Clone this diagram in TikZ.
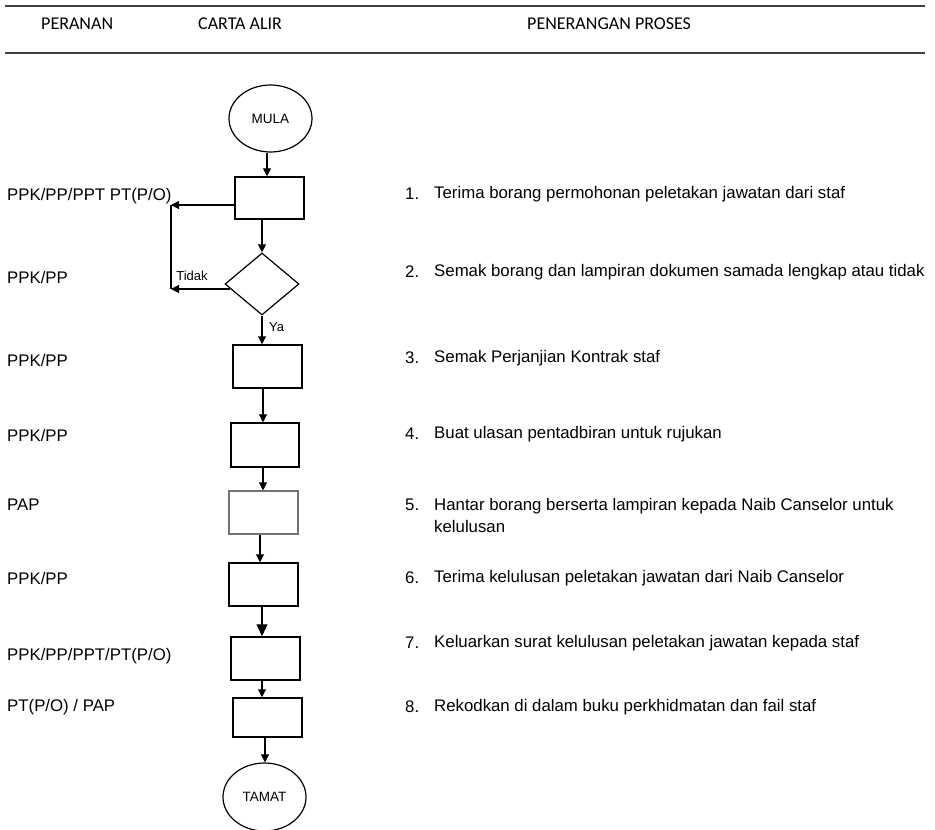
\documentclass[tikz,border=0pt]{standalone}
\usepackage{fontspec}
\setmainfont{Liberation Sans}
\newfontfamily\hdrfont{Carlito}
\usetikzlibrary{shapes.geometric,arrows.meta,calc}
\begin{document}
\begin{tikzpicture}[x=1pt,y=-1pt,
 box/.style={draw,line width=1.5pt,inner sep=0pt},
 term/.style={draw,ellipse,line width=1.2pt,inner sep=0pt,font=\fontsize{13.5}{15}\selectfont},
 dec/.style={draw,diamond,line width=1.2pt,inner sep=0pt},
 arr/.style={line width=1.1pt,-{Triangle[length=8pt,width=8pt]}},
 bigarr/.style={line width=1.1pt,-{Triangle[length=12pt,width=11pt]}},
 plain/.style={line width=1.1pt},
 role/.style={anchor=west,font=\fontsize{16.8}{20}\selectfont,inner sep=0pt},
 desc/.style={anchor=west,font=\fontsize{16.8}{22}\selectfont,inner sep=0pt,align=left},
 small/.style={font=\fontsize{13}{15}\selectfont,inner sep=0pt},
 hdr/.style={anchor=west,font=\hdrfont\fontsize{18}{21}\selectfont,inner sep=0pt},
 rulel/.style={line width=1.4pt,draw=black!75}
]
\useasboundingbox (0,0) rectangle (935,830);

% header
\draw[rulel] (5,6) -- (925,6);
\draw[rulel] (5,53) -- (925,53);
\node[hdr] (h1) at (41,24) {PERANAN};
\node[hdr] (h2) at (198,24) {CARTA ALIR};
\node[hdr] (h3) at (527,24) {PENERANGAN PROSES};

% flowchart
\node[term,minimum width=83pt,minimum height=67pt] (mula) at (270.5,118.5) {MULA};
\node[box,minimum width=69pt,minimum height=42pt] (b1) at (269.5,198) {};
\node[dec,minimum width=74pt,minimum height=62pt] (dia) at (262,284) {};
\node[box,minimum width=69pt,minimum height=43pt] (b3) at (267.5,366.5) {};
\node[box,minimum width=68pt,minimum height=44pt] (b4) at (265,445) {};
\node[box,draw=black!55,line width=1.1pt,minimum width=69pt,minimum height=43pt] (b5) at (263.5,512.5) {};
\node[box,minimum width=69pt,minimum height=43pt] (b6) at (263.5,584.5) {};
\node[box,minimum width=69pt,minimum height=43pt] (b7) at (265.5,658.5) {};
\node[box,minimum width=69pt,minimum height=39pt] (b8) at (267.5,717.5) {};
\node[term,minimum width=83pt,minimum height=68pt] (tamat) at (264.5,797) {TAMAT};

\coordinate (xa) at (267,0);
\coordinate (xb) at (263,0);
\coordinate (xc) at (260,0);
\coordinate (xd) at (262,0);
\coordinate (xe) at (265,0);
\coordinate (lx) at (171,0);

\draw[arr] (mula.south -| xa) -- (b1.north -| xa);
\draw[arr] (b1.south -| dia.north) -- (dia.north);
\draw[arr] (dia.south) -- (b3.north -| dia.south);
\draw[arr] (b3.south -| xb) -- (b4.north -| xb);
\draw[arr] (b4.south -| xb) -- (b5.north -| xb);
\draw[arr] (b5.south -| xc) -- (b6.north -| xc);
\draw[bigarr] (b6.south -| xd) -- (b7.north -| xd);
\draw[arr] (b7.south -| xd) -- (b8.north -| xd);
\draw[arr] (b8.south -| xe) -- (tamat.north -| xe);

% Tidak loop
\coordinate (p1) at ($(b1.west)+(0,7)$);
\coordinate (q1) at ($(dia.west)+(6,5)$);
\draw[arr] (p1) -- (p1 -| lx);
\draw[plain] (p1 -| lx) -- (q1 -| lx);
\draw[arr] (q1) -- (q1 -| lx);
\node[small] (tidak) at (192,276) {Tidak};
\node[small,anchor=west] (ya) at (269,327) {Ya};

% roles
\node[role] (r1) at (7,196) {PPK/PP/PPT PT(P/O)};
\node[role] (r2) at (7,277) {PPK/PP};
\node[role] (r3) at (7,360) {PPK/PP};
\node[role] (r4) at (7,435) {PPK/PP};
\node[role] (r5) at (7,505) {PAP};
\node[role] (r6) at (7,578) {PPK/PP};
\node[role] (r7) at (7,656) {PPK/PP/PPT/PT(P/O)};
\node[role] (r8) at (7,707) {PT(P/O) / PAP};

% descriptions
\node[desc] (n1) at (405,194) {1.};
\node[desc] (d1) at (434,194) {Terima borang permohonan peletakan jawatan dari staf};
\node[desc] (n2) at (405,272) {2.};
\node[desc] (d2) at (434,272) {Semak borang dan lampiran dokumen samada lengkap atau tidak};
\node[desc] (n3) at (405,358) {3.};
\node[desc] (d3) at (434,358) {Semak Perjanjian Kontrak staf};
\node[desc] (n4) at (405,434) {4.};
\node[desc] (d4) at (434,434) {Buat ulasan pentadbiran untuk rujukan};
\node[desc] (n5) at (405,505) {5.};
\node[desc,anchor=north west] (d5) at (434,498) {Hantar borang berserta lampiran kepada Naib Canselor untuk\\kelulusan};
\node[desc] (n6) at (405,578) {6.};
\node[desc] (d6) at (434,578) {Terima kelulusan peletakan jawatan dari Naib Canselor};
\node[desc] (n7) at (405,643) {7.};
\node[desc] (d7) at (434,643) {Keluarkan surat kelulusan peletakan jawatan kepada staf};
\node[desc] (n8) at (405,707) {8.};
\node[desc] (d8) at (434,707) {Rekodkan di dalam buku perkhidmatan dan fail staf};
\end{tikzpicture}
\end{document}
